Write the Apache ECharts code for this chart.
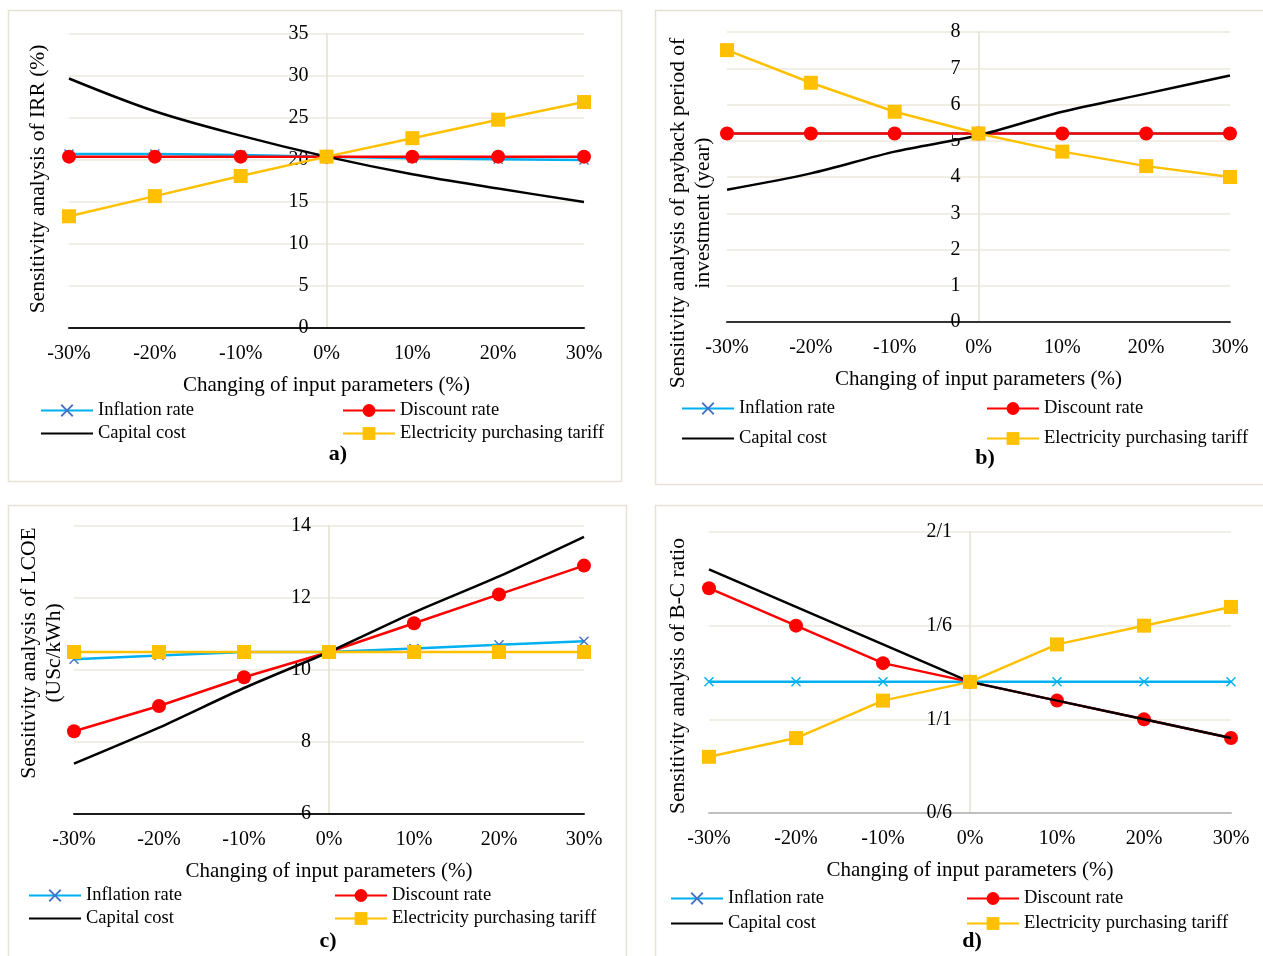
<!DOCTYPE html>
<html>
<head>
<meta charset="utf-8">
<script src="https://cdn.jsdelivr.net/npm/echarts@6/dist/echarts.min.js"></script>
<style>
  html, body { margin: 0; background: #fff; }
  #chart { width: 1263px; height: 956px; }
</style>
</head>
<body>
<div id="chart"></div>
<script>
// x positions (% change of input parameter)
const changes = [-30, -20, -10, 0, 10, 20, 30];
const names = ['Inflation rate', 'Discount rate', 'Capital cost', 'Electricity purchasing tariff'];

// a) IRR (%)
const irrInflation = [20.7, 20.7, 20.6, 20.4, 20.2, 20.1, 20.0];
const irrDiscount = [20.4, 20.4, 20.4, 20.4, 20.4, 20.4, 20.4];
const irrCapital = [29.7, 25.8, 22.9, 20.4, 18.3, 16.6, 15.0];
const irrTariff = [13.3, 15.7, 18.1, 20.4, 22.6, 24.8, 26.9];

// b) payback period (year)
const payInflation = [5.2, 5.2, 5.2, 5.2, 5.2, 5.2, 5.2];
const payDiscount = [5.2, 5.2, 5.2, 5.2, 5.2, 5.2, 5.2];
const payCapital = [3.65, 4.1, 4.7, 5.15, 5.8, 6.3, 6.8];
const payTariff = [7.5, 6.6, 5.8, 5.2, 4.7, 4.3, 4.0];

// c) LCOE (USc/kWh)
const lcoeInflation = [10.3, 10.4, 10.5, 10.5, 10.6, 10.7, 10.8];
const lcoeDiscount = [8.3, 9.0, 9.8, 10.5, 11.3, 12.1, 12.9];
const lcoeCapital = [7.4, 8.4, 9.5, 10.5, 11.6, 12.6, 13.7];
const lcoeTariff = [10.5, 10.5, 10.5, 10.5, 10.5, 10.5, 10.5];

// d) B-C ratio
const bcInflation = [1.3, 1.3, 1.3, 1.3, 1.3, 1.3, 1.3];
const bcDiscount = [1.8, 1.6, 1.4, 1.3, 1.2, 1.1, 1.0];
const bcCapital = [1.9, 1.7, 1.5, 1.3, 1.2, 1.1, 1.0];
const bcTariff = [0.9, 1.0, 1.2, 1.3, 1.5, 1.6, 1.7];
const bcTickLabels = ['0/6', '1/1', '1/6', '2/1'];

const FONT = '"Liberation Serif", "Times New Roman", serif';
const xMark = 'path://M0,1 L1,0 L5,4 L9,0 L10,1 L6,5 L10,9 L9,10 L5,6 L1,10 L0,9 L4,5 Z';

const panels = [
  {
    grid: { left: 69, top: 34, width: 515, height: 294 },
    y: { min: 0, max: 35, interval: 5 },
    yName: 'Sensitivity analysis of IRR (%)', yNamePos: [38, 179],
    data: [irrInflation, irrDiscount, irrCapital, irrTariff],
    axisColor: '#1a1a1a', xMarkColor: '#4472c4', smooth: 0.35,
    legend: { x1: 40, x2: 342, top: 401, gap: 4 },
    box: [8, 10, 613, 471], tag: 'a)', tagPos: [338, 454]
  },
  {
    grid: { left: 727, top: 32, width: 503, height: 290 },
    y: { min: 0, max: 8, interval: 1 },
    yName: 'Sensitivity analysis of payback period of\ninvestment (year)', yNamePos: [691, 213],
    data: [payInflation, payDiscount, payCapital, payTariff],
    axisColor: '#333333', xMarkColor: '#4472c4', smooth: 0.3,
    legend: { x1: 681, x2: 986, top: 399, gap: 11 },
    box: [655, 10, 620, 474], tag: 'b)', tagPos: [985, 458]
  },
  {
    grid: { left: 74, top: 526, width: 510, height: 288 },
    y: { min: 6, max: 14, interval: 2 },
    yName: 'Sensitivity analysis of LCOE\n(USc/kWh)', yNamePos: [42, 653],
    data: [lcoeInflation, lcoeDiscount, lcoeCapital, lcoeTariff],
    axisColor: '#1a1a1a', xMarkColor: '#4472c4', smooth: 0.2,
    legend: { x1: 28, x2: 334, top: 886, gap: 4 },
    box: [8, 505, 618, 460], tag: 'c)', tagPos: [328, 941]
  },
  {
    grid: { left: 709, top: 532, width: 522, height: 281 },
    y: { min: 0.6, max: 2.1, interval: 0.5, labels: bcTickLabels },
    yName: 'Sensitivity analysis of B-C ratio', yNamePos: [678, 676],
    data: [bcInflation, bcDiscount, bcCapital, bcTariff],
    axisColor: '#bfbfbf', xMarkColor: '#00b0f0', smooth: 0,
    legend: { x1: 670, x2: 966, top: 889, gap: 6 },
    box: [655, 505, 620, 460], tag: 'd)', tagPos: [972, 941]
  }
];

const grids = [], xAxes = [], yAxes = [], series = [], legends = [], graphics = [];

panels.forEach((p, i) => {
  grids.push(Object.assign({ outerBoundsMode: 'none', containLabel: false }, p.grid));
  xAxes.push({
    type: 'value', gridIndex: i, min: -30, max: 30, interval: 10,
    name: 'Changing of input parameters (%)', nameLocation: 'middle', nameGap: 47,
    nameTextStyle: { fontFamily: FONT, fontSize: 21, color: '#000' },
    axisLine: { lineStyle: { color: p.axisColor, width: 2 } },
    axisTick: { show: false },
    splitLine: { show: false },
    axisLabel: { formatter: '{value}%', fontFamily: FONT, fontSize: 20, color: '#000', margin: 16 }
  });
  // value axis drawn through 0% like the original
  yAxes.push({
    type: 'value', gridIndex: i, min: p.y.min, max: p.y.max, interval: p.y.interval,
    offset: -p.grid.width / 2,
    axisLine: { show: true, onZero: false, lineStyle: { color: '#e3dfd2', width: 1.5 } },
    axisTick: { show: false },
    splitLine: { lineStyle: { color: '#ece8dc', width: 1.5 } },
    axisLabel: {
      fontFamily: FONT, fontSize: 20, color: '#000', margin: 18,
      formatter: p.y.labels ? (v, idx) => p.y.labels[idx] : '{value}'
    }
  });

  const styles = [
    { color: '#00b0f0', symbol: xMark, symbolSize: 10, markColor: p.xMarkColor },
    { color: '#ff0000', symbol: 'circle', symbolSize: 14 },
    { color: '#000000', symbol: 'none', symbolSize: 0, smooth: p.smooth },
    { color: '#ffc000', symbol: 'rect', symbolSize: 14 }
  ];
  names.forEach((n, k) => {
    const s = styles[k];
    series.push({
      name: n, type: 'line', xAxisIndex: i, yAxisIndex: i,
      data: changes.map((c, j) => [c, p.data[k][j]]),
      symbol: s.symbol, symbolSize: s.symbolSize, showSymbol: s.symbol !== 'none',
      smooth: s.smooth || false,
      lineStyle: { color: s.color, width: 2.5 },
      itemStyle: { color: s.markColor || s.color },
      emphasis: { disabled: true },
      z: 2 + k
    });
  });

  const legendBase = {
    orient: 'vertical', top: p.legend.top, padding: 0, itemWidth: 52, itemHeight: 16,
    itemGap: p.legend.gap, selectedMode: false,
    textStyle: { fontFamily: FONT, fontSize: 18.5, color: '#000', lineHeight: 18 }
  };
  legends.push(Object.assign({}, legendBase, {
    left: p.legend.x1,
    data: [names[0], { name: names[2], itemStyle: { opacity: 0 } }]
  }));
  legends.push(Object.assign({}, legendBase, { left: p.legend.x2, data: [names[1], names[3]] }));

  graphics.push({
    type: 'rect', silent: true, z: -1,
    shape: { x: p.box[0] + 0.5, y: p.box[1] + 0.5, width: p.box[2], height: p.box[3] },
    style: { fill: null, stroke: '#e6e2d6', lineWidth: 1.5 }
  });
  graphics.push({
    type: 'text', x: p.yNamePos[0], y: p.yNamePos[1], rotation: Math.PI / 2,
    style: {
      text: p.yName, font: '21.5px ' + FONT, lineHeight: 25, fill: '#000',
      align: 'center', verticalAlign: 'middle'
    }
  });
  graphics.push({
    type: 'text', x: p.tagPos[0], y: p.tagPos[1],
    style: { text: p.tag, font: 'bold 22px ' + FONT, fill: '#000', align: 'center', verticalAlign: 'middle' }
  });
});

const chart = echarts.init(document.getElementById('chart'));
chart.setOption({
  animation: false,
  backgroundColor: '#fff',
  grid: grids,
  xAxis: xAxes,
  yAxis: yAxes,
  legend: legends,
  series: series,
  graphic: graphics
});
</script>
</body>
</html>
